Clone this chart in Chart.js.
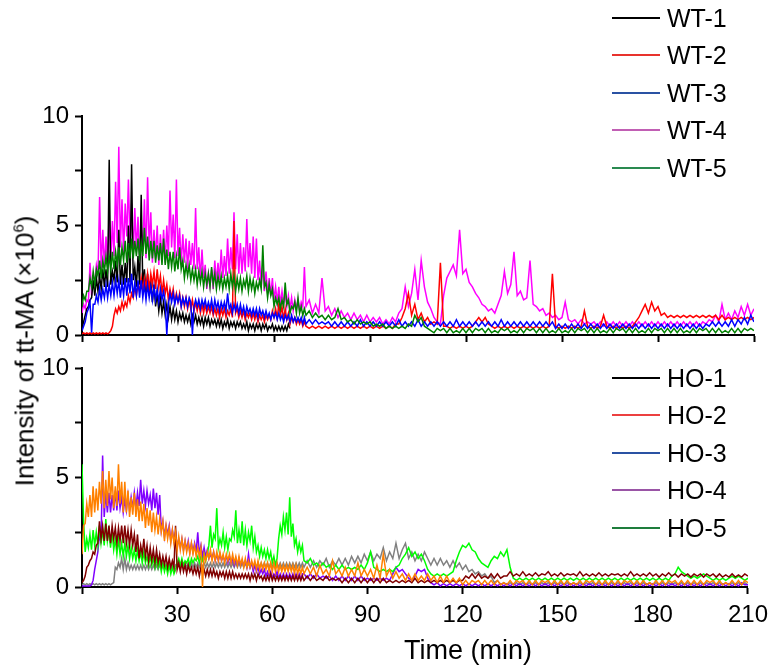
<!DOCTYPE html>
<html>
<head>
<meta charset="utf-8">
<title>Intensity of tt-MA</title>
<script src="https://cdn.jsdelivr.net/npm/chart.js@4.4.1/dist/chart.umd.min.js"></script>
<style>
    body { margin: 0; background: #fff; font-family: "Liberation Sans", Arial, sans-serif; color: #000; }
    #figure { position: relative; width: 775px; height: 670px; overflow: hidden; }
    #figure canvas { position: absolute; left: 0; top: 0; }
    .y-title { position: absolute; left: 25px; top: 351px; transform: translate(-50%, -50%) rotate(-90deg); font-size: 26px; white-space: nowrap; }
    .y-title sup { font-size: 15px; }
    .x-title { position: absolute; left: 404px; top: 634px; font-size: 27px; line-height: 32px; white-space: nowrap; }
    .legend-row { position: absolute; left: 612px; height: 30px; display: flex; align-items: center; font-size: 25px; line-height: 30px; white-space: nowrap; }
    .legend-row .swatch { display: inline-block; width: 48px; height: 2px; margin-right: 7px; }
</style>
</head>
<body>
<div id="figure">
    <canvas id="topChart" width="775" height="670"></canvas>
    <canvas id="bottomChart" width="775" height="670"></canvas>
    <div class="y-title">Intensity of tt-MA (×10<sup>6</sup>)</div>
    <div class="x-title">Time (min)</div>
</div>
<script>
//DATA (intensity in units of 10^6; half-minute readings up to 70 min, then one per minute)
const minutes = [
    0,0.5,1,1.5,2,2.5,3,3.5,4,4.5, 5,5.5,6,6.5,7,7.5,8,8.5,9,9.5,
    10,10.5,11,11.5,12,12.5,13,13.5,14,14.5, 15,15.5,16,16.5,17,17.5,18,18.5,19,19.5,
    20,20.5,21,21.5,22,22.5,23,23.5,24,24.5, 25,25.5,26,26.5,27,27.5,28,28.5,29,29.5,
    30,30.5,31,31.5,32,32.5,33,33.5,34,34.5, 35,35.5,36,36.5,37,37.5,38,38.5,39,39.5,
    40,40.5,41,41.5,42,42.5,43,43.5,44,44.5, 45,45.5,46,46.5,47,47.5,48,48.5,49,49.5,
    50,50.5,51,51.5,52,52.5,53,53.5,54,54.5, 55,55.5,56,56.5,57,57.5,58,58.5,59,59.5,
    60,60.5,61,61.5,62,62.5,63,63.5,64,64.5, 65,65.5,66,66.5,67,67.5,68,68.5,69,69.5,
    70,71,72,73,74,75,76,77,78,79, 80,81,82,83,84,85,86,87,88,89,
    90,91,92,93,94,95,96,97,98,99, 100,101,102,103,104,105,106,107,108,109,
    110,111,112,113,114,115,116,117,118,119, 120,121,122,123,124,125,126,127,128,129,
    130,131,132,133,134,135,136,137,138,139, 140,141,142,143,144,145,146,147,148,149,
    150,151,152,153,154,155,156,157,158,159, 160,161,162,163,164,165,166,167,168,169,
    170,171,172,173,174,175,176,177,178,179, 180,181,182,183,184,185,186,187,188,189,
    190,191,192,193,194,195,196,197,198,199, 200,201,202,203,204,205,206,207,208,209,
    210
];

const xTickValues = [30, 60, 90, 120, 150, 180, 210];
const yTickValues = [0, 5, 10];

const wtNames = ["WT-1", "WT-2", "WT-3", "WT-4", "WT-5"];
const hoNames = ["HO-1", "HO-2", "HO-3", "HO-4", "HO-5"];

// WT-1 stops at 65 min
const wt1 = [
    0.3,0.6,0.9,1.2,1.3,1.6,1.7,2.5,1.8,2.6,
    2.0,2.7,2.1,3.0,2.2,3.0,2.2,8.0,2.3,2.9,
    2.5,3.4,2.4,4.8,2.3,3.2,2.3,3.3,2.4,5.0,
    2.4,7.8,2.5,3.1,2.2,3.6,2.3,6.4,2.2,3.0,
    1.9,2.8,1.8,2.4,1.5,2.3,1.3,1.9,1.1,1.7,
    1.0,1.5,0.9,1.4,0.8,1.3,0.7,1.2,0.7,1.1,
    0.6,1.0,0.7,1.0,0.6,0.9,0.6,0.9,0.5,0.9,
    0.6,0.9,0.5,0.8,0.5,0.8,0.4,0.8,0.5,0.8,
    0.4,0.7,0.5,0.7,0.4,0.7,0.4,0.7,0.3,0.6,
    0.4,0.7,0.3,0.6,0.4,0.6,0.3,0.6,0.4,0.6,
    0.3,0.5,0.3,0.6,0.2,0.5,0.3,0.5,0.2,0.5,
    0.3,0.5,0.2,0.5,0.3,0.5,0.2,0.4,0.3,0.5,
    0.2,0.4,0.2,0.4,0.2,0.4,0.2,0.4,0.2,0.5,
    0.3
];

const wt2 = [
    0.05,0.1,0.05,0.1,0.05,0.1,0.05,0.1,0.05,0.1,
    0.05,0.1,0.05,0.1,0.05,0.1,0.05,0.1,0.2,0.4,
    0.9,1.2,1.0,1.3,1.1,1.5,1.2,1.5,1.3,1.8,
    1.5,1.9,1.7,2.2,1.8,2.3,2.0,2.6,2.0,2.6,
    2.2,2.8,2.1,2.8,2.3,2.9,2.1,3.0,2.2,2.7,
    1.9,2.5,1.9,2.3,1.6,2.1,1.7,2.1,1.5,1.9,
    1.5,1.9,1.3,1.7,1.3,1.7,1.2,1.6,1.2,1.6,
    1.1,1.5,1.1,1.5,1.0,1.4,1.0,1.4,1.0,1.3,
    1.0,1.3,0.9,1.2,0.9,1.2,0.8,1.2,0.9,1.2,
    0.8,1.1,0.9,1.2,0.8,5.2,1.0,1.2,0.8,1.1,
    0.8,1.1,0.7,1.0,0.8,1.0,0.7,1.0,0.7,1.0,
    0.6,0.9,0.7,0.9,0.6,0.9,0.7,0.9,0.7,1.1,
    0.8,1.2,0.8,1.4,0.9,1.3,0.7,1.2,0.7,1.0,
    0.5,0.8,0.6,0.8,0.5,0.7,0.5,0.7,0.4,0.6,
    0.4,0.3,0.4,0.3,0.4,0.3,0.4,0.3,0.4,0.3,
    0.4,0.3,0.4,0.3,0.4,0.3,0.4,0.3,0.4,0.3,
    0.4,0.3,0.4,0.3,0.4,0.3,0.4,0.3,0.5,0.5,
    0.8,1.2,1.9,0.9,1.4,0.7,1.0,0.6,0.8,0.5,
    0.6,0.5,3.3,0.4,0.4,0.3,0.4,0.3,0.4,0.3,
    0.4,0.3,0.4,0.6,0.8,0.6,0.8,0.5,0.4,0.3,
    0.4,0.3,0.4,0.3,0.4,0.3,0.4,0.3,0.4,0.3,
    0.4,0.3,0.4,0.3,0.4,0.3,0.4,2.8,0.4,0.3,
    0.4,0.3,0.4,0.3,0.4,0.3,0.4,1.1,0.4,0.3,
    0.4,0.3,0.4,0.9,0.4,0.3,0.4,0.3,0.4,0.3,
    0.4,0.3,0.4,0.6,0.8,1.1,1.4,1.0,1.5,1.1,
    1.3,0.9,1.0,0.8,0.9,0.8,0.9,0.8,0.9,0.8,
    0.9,0.8,0.9,0.8,0.9,0.8,0.9,0.8,0.9,0.7,
    0.9,0.7,0.8,0.7,0.8,0.7,0.8,0.7,0.8,0.7,
    0.8
];

const wt3 = [
    0.2,0.4,0.6,1.0,1.2,1.5,0.1,1.4,1.4,1.8,
    1.5,2.1,1.6,2.1,1.7,2.3,1.7,2.3,1.8,2.4,
    1.8,2.5,1.9,2.5,1.7,2.4,1.8,2.6,1.8,2.6,
    1.9,2.8,1.7,2.4,1.8,2.5,1.7,2.5,1.7,2.3,
    1.6,2.3,1.7,2.2,1.6,2.2,1.6,2.1,1.5,2.1,
    1.6,2.0,1.5,0.0,1.4,1.9,1.5,1.9,1.4,1.8,
    1.5,1.8,1.3,1.7,1.4,1.7,1.3,1.7,1.5,0.0,
    1.3,1.6,1.3,1.6,1.2,1.6,1.3,1.6,1.2,1.5,
    1.2,1.6,1.1,1.6,1.2,1.5,1.1,1.5,1.2,1.5,
    1.1,1.9,1.2,1.4,1.0,1.4,1.1,1.4,1.0,1.4,
    1.0,1.3,0.9,1.3,1.0,1.2,0.9,1.2,0.9,1.2,
    0.8,1.2,0.9,1.1,0.8,1.1,0.8,1.0,0.7,1.0,
    0.8,1.0,0.7,1.0,0.7,0.9,0.6,0.9,0.7,0.9,
    0.6,0.9,0.6,0.8,0.6,0.8,0.6,0.8,0.5,0.8,
    0.5,0.7,0.5,0.7,0.5,0.6,0.5,0.6,0.4,0.6,
    0.4,0.6,0.4,0.6,0.4,0.6,0.4,0.7,0.4,0.6,
    0.4,0.6,0.4,0.6,0.4,0.6,0.4,0.6,0.4,0.7,
    0.4,0.6,0.4,0.6,0.4,0.7,0.4,0.6,0.4,0.6,
    0.4,0.6,0.4,0.6,0.4,0.6,0.4,0.7,0.4,0.6,
    0.4,0.6,0.4,0.6,0.4,0.6,0.4,0.6,0.4,0.6,
    0.4,0.7,0.4,0.6,0.4,0.6,0.4,0.6,0.4,0.6,
    0.4,0.6,0.4,0.6,0.4,0.6,0.4,0.6,0.3,0.5,
    0.3,0.5,0.3,0.5,0.3,0.5,0.3,0.5,0.3,0.5,
    0.3,0.5,0.3,0.5,0.3,0.5,0.3,0.5,0.3,0.5,
    0.3,0.5,0.3,0.5,0.3,0.5,0.3,0.5,0.3,0.5,
    0.3,0.5,0.3,0.5,0.3,0.5,0.3,0.5,0.3,0.5,
    0.3,0.5,0.3,0.5,0.3,0.5,0.4,0.6,0.4,0.6,
    0.4,0.6,0.4,0.7,0.4,0.7,0.5,0.8,0.5,0.9,
    0.6
];

const wt4 = [
    1.0,1.4,1.2,1.6,1.5,3.3,1.8,2.6,2.4,3.2,
    2.8,6.3,3.0,4.8,3.1,4.5,3.3,5.6,3.4,5.2,
    3.6,7.0,4.2,8.6,4.0,6.2,3.7,6.0,4.5,7.1,
    4.2,6.0,3.6,5.8,3.8,5.4,3.4,5.0,3.8,6.2,
    3.5,7.2,3.9,5.6,3.3,4.8,3.5,5.0,3.2,4.6,
    3.4,4.8,3.3,5.0,3.6,6.6,4.0,5.5,3.5,7.1,
    3.6,4.9,3.2,4.6,3.3,4.4,3.0,4.3,3.2,4.2,
    3.0,5.8,3.0,4.0,2.5,3.9,2.6,3.2,2.1,2.8,
    2.2,3.0,2.1,3.4,2.4,3.3,2.5,3.9,2.6,3.6,
    2.7,4.4,2.8,4.0,3.0,5.6,3.0,4.6,2.8,4.2,
    2.8,4.0,2.9,5.3,3.1,4.2,2.8,4.5,2.6,4.4,
    2.5,3.4,2.2,3.2,2.0,2.9,1.9,2.6,1.8,2.6,
    1.6,2.2,1.5,2.2,1.4,2.0,1.4,1.9,1.3,1.8,
    1.2,1.7,1.1,1.6,1.2,1.6,1.1,1.5,1.3,3.1,
    1.3,1.6,1.0,1.4,1.0,2.6,1.1,1.3,0.9,1.2,
    0.8,1.1,0.8,1.0,0.7,1.0,0.7,0.9,0.6,0.9,
    0.6,0.8,0.6,0.8,0.5,0.7,0.5,0.8,0.6,1.0,
    1.2,2.2,1.3,1.9,3.0,1.6,3.4,2.2,1.5,1.2,
    0.8,0.6,0.5,1.8,2.6,2.9,3.2,2.7,4.8,2.8,
    3.0,2.4,2.2,1.9,1.7,1.4,1.3,1.1,1.2,1.0,
    1.4,1.8,2.9,1.9,2.3,3.8,1.8,2.0,1.6,1.7,
    3.4,1.4,1.3,1.1,1.2,0.9,1.0,0.8,0.9,0.7,
    0.8,1.5,0.7,0.6,0.7,0.5,0.7,0.5,0.6,0.5,
    0.6,0.4,0.6,0.4,0.6,0.4,0.6,0.4,0.6,0.4,
    0.6,0.4,0.6,0.4,0.6,0.4,0.6,0.4,0.6,0.4,
    0.6,0.4,0.6,0.4,0.6,0.4,0.6,0.4,0.6,0.4,
    0.6,0.4,0.6,0.4,0.6,0.5,0.7,0.6,0.9,0.6,
    1.4,0.7,1.0,0.7,1.1,0.8,1.3,0.9,1.4,0.9,
    1.2
];

const wt5 = [
    1.3,1.8,1.6,2.0,2.0,2.6,2.2,2.9,2.3,3.0,
    2.7,3.4,2.6,3.4,2.9,3.6,2.9,3.6,3.0,3.8,
    3.0,3.8,3.2,4.0,3.2,4.0,3.4,4.3,3.3,4.2,
    3.5,4.4,3.5,4.3,3.6,4.4,3.4,4.2,3.6,4.9,
    3.7,4.5,3.4,4.3,3.5,4.3,3.3,4.1,3.4,4.2,
    3.2,4.4,3.2,3.9,3.0,3.8,3.1,3.8,2.9,3.6,
    3.0,4.0,3.0,3.4,2.6,3.2,2.7,3.2,2.5,3.0,
    2.5,3.0,2.3,2.9,2.4,2.9,2.2,2.8,2.3,2.8,
    2.2,3.1,2.3,2.8,2.1,2.7,2.2,2.7,2.1,2.6,
    2.2,2.7,2.1,2.8,2.2,2.7,2.0,2.6,2.1,2.6,
    2.0,2.5,2.2,2.7,2.0,2.6,2.1,2.5,1.9,2.4,
    2.1,2.5,2.1,4.1,2.2,2.4,1.7,2.3,1.8,2.1,
    1.3,1.7,1.4,1.7,1.2,1.6,1.3,2.4,1.4,1.6,
    1.0,1.3,1.2,1.5,1.0,1.7,1.0,1.3,0.9,1.2,
    0.9,1.1,0.8,1.0,0.8,0.9,0.7,0.9,0.7,0.8,
    1.2,0.7,0.8,0.6,0.7,0.5,0.7,0.5,0.6,0.5,
    0.6,0.4,0.5,0.4,0.5,0.3,0.4,0.3,0.4,0.3,
    0.4,0.3,0.5,0.4,0.9,0.6,0.8,0.4,0.3,0.2,
    0.1,0.3,0.2,0.3,0.1,0.3,0.1,0.2,0.1,0.3,
    0.1,0.3,0.1,0.3,0.2,0.3,0.1,0.3,0.1,0.2,
    0.1,0.3,0.2,0.3,0.1,0.2,0.1,0.3,0.1,0.3,
    0.2,0.3,0.1,0.3,0.1,0.3,0.1,0.2,0.1,0.3,
    0.1,0.2,0.1,0.3,0.1,0.3,0.2,0.3,0.1,0.3,
    0.1,0.3,0.1,0.2,0.1,0.3,0.1,0.3,0.2,0.3,
    0.1,0.3,0.1,0.3,0.1,0.2,0.1,0.3,0.1,0.3,
    0.2,0.3,0.1,0.3,0.1,0.3,0.1,0.3,0.1,0.2,
    0.1,0.3,0.1,0.3,0.2,0.3,0.1,0.3,0.1,0.3,
    0.1,0.2,0.1,0.3,0.1,0.3,0.1,0.3,0.2,0.3,
    0.2
];

const ho1 = [
    0.2,0.3,0.5,0.9,1.0,1.2,1.3,1.6,1.5,1.9,
    2.0,3.0,2.2,2.8,2.1,2.9,2.1,2.8,2.0,2.8,
    2.2,2.7,2.0,2.7,2.1,2.8,2.0,2.8,2.0,2.6,
    1.9,2.6,1.9,2.4,1.6,2.4,1.3,1.9,1.5,2.2,
    1.4,1.9,1.2,1.8,1.2,1.7,1.1,1.7,1.1,1.5,
    1.0,1.4,1.0,1.4,0.9,1.3,0.9,1.2,0.9,2.8,
    0.8,1.1,0.7,1.1,0.7,1.0,0.6,1.0,0.7,0.9,
    0.6,0.9,0.6,0.9,0.5,0.9,0.6,0.8,0.5,0.8,
    0.5,0.8,0.5,0.8,0.5,0.7,0.4,0.7,0.5,0.7,
    0.4,0.7,0.4,0.7,0.4,0.7,0.4,0.6,0.4,0.6,
    0.4,0.6,0.4,0.6,0.4,0.6,0.3,0.6,0.4,0.6,
    0.3,0.6,0.4,0.5,0.3,0.5,0.3,0.5,0.3,0.6,
    0.3,0.5,0.3,0.5,0.3,0.5,0.3,0.5,0.3,0.5,
    0.3,0.5,0.3,0.5,0.3,0.5,0.3,0.5,0.3,0.5,
    0.3,0.5,0.3,0.5,0.3,0.4,0.3,0.5,0.3,0.4,
    0.3,0.4,0.2,0.4,0.2,0.4,0.2,0.4,0.2,0.4,
    0.2,0.4,0.2,0.4,0.2,0.4,0.2,0.3,0.2,0.3,
    0.2,0.3,0.2,0.3,0.2,0.4,0.2,0.3,0.2,0.3,
    0.2,0.3,0.2,0.3,0.2,0.3,0.2,0.3,0.2,0.3,
    0.3,0.5,0.4,0.6,0.4,0.6,0.4,0.5,0.4,0.6,
    0.4,0.6,0.4,0.5,0.5,0.7,0.5,0.6,0.5,0.7,
    0.5,0.6,0.5,0.65,0.5,0.6,0.55,0.7,0.5,0.6,
    0.5,0.65,0.5,0.6,0.55,0.6,0.5,0.7,0.5,0.6,
    0.5,0.6,0.5,0.65,0.5,0.6,0.5,0.6,0.55,0.6,
    0.5,0.6,0.5,0.7,0.5,0.6,0.5,0.6,0.5,0.65,
    0.5,0.6,0.45,0.6,0.5,0.65,0.5,0.6,0.45,0.6,
    0.5,0.6,0.45,0.6,0.5,0.6,0.45,0.6,0.5,0.6,
    0.45,0.6,0.45,0.55,0.45,0.6,0.45,0.55,0.45,0.6,
    0.5
];

const ho2 = [
    1.5,2.8,2.9,3.8,3.2,4.2,3.2,4.6,3.4,4.5,
    3.5,4.8,3.8,5.3,3.6,4.9,3.7,5.3,4.0,5.0,
    3.6,4.6,3.7,5.6,3.8,4.8,3.4,4.8,3.4,4.4,
    3.2,4.1,3.3,4.3,3.2,4.0,3.0,3.9,3.0,3.8,
    2.7,3.6,2.8,3.5,2.5,3.4,2.6,3.2,2.4,3.1,
    2.5,3.0,2.1,2.8,2.2,2.7,2.0,2.6,2.0,2.5,
    1.7,2.3,1.7,2.2,1.6,2.1,1.6,2.0,1.5,2.0,
    1.5,1.9,1.4,1.8,1.4,1.8,0.0,1.5,1.2,1.6,
    1.3,1.7,1.2,1.6,1.2,1.6,1.2,1.6,1.2,1.5,
    1.1,1.5,1.2,1.5,1.1,1.5,1.1,1.4,1.0,1.4,
    1.0,1.3,0.9,1.3,0.9,1.2,0.9,1.2,0.9,1.2,
    0.8,1.2,0.8,1.1,0.8,1.1,0.8,1.1,0.7,1.1,
    0.7,1.1,0.7,1.1,0.7,1.0,0.7,1.0,0.7,1.0,
    0.7,1.0,0.7,1.0,0.6,1.0,0.6,0.9,0.6,0.9,
    0.6,0.9,0.6,0.9,0.5,1.0,0.6,0.8,0.5,1.2,
    0.6,0.8,0.5,0.9,0.5,0.8,0.5,1.1,0.5,0.8,
    0.5,0.8,0.4,1.0,0.4,1.5,0.5,0.8,0.4,0.7,
    0.4,0.6,0.3,0.6,0.3,0.6,0.3,0.5,0.3,0.6,
    0.3,0.5,0.2,0.5,0.2,0.5,0.2,0.4,0.2,0.4,
    0.1,0.3,0.1,0.3,0.2,0.3,0.1,0.3,0.1,0.3,
    0.1,0.3,0.1,0.2,0.1,0.3,0.1,0.3,0.2,0.3,
    0.1,0.3,0.1,0.3,0.1,0.3,0.2,0.3,0.1,0.3,
    0.1,0.3,0.1,0.3,0.1,0.2,0.1,0.3,0.1,0.3,
    0.2,0.3,0.1,0.3,0.1,0.3,0.1,0.3,0.1,0.3,
    0.1,0.3,0.2,0.3,0.1,0.3,0.1,0.3,0.1,0.2,
    0.1,0.3,0.1,0.3,0.1,0.3,0.2,0.3,0.1,0.3,
    0.1,0.3,0.1,0.3,0.1,0.3,0.1,0.3,0.2,0.3,
    0.1,0.3,0.1,0.2,0.1,0.3,0.1,0.3,0.1,0.3,
    0.2
];

const ho3 = [
    0.1,0.15,0.1,0.15,0.1,0.15,0.1,0.15,0.1,0.15,
    0.1,0.15,0.1,0.15,0.1,0.15,0.1,0.15,0.1,0.15,
    0.2,0.9,0.8,1.1,0.9,1.3,0.8,1.3,0.8,1.1,
    0.8,1.0,0.8,1.0,0.8,1.0,0.8,1.0,0.8,1.0,
    0.8,1.0,0.8,1.0,0.8,1.0,0.8,1.0,0.8,1.0,
    0.8,1.0,0.8,1.0,0.8,1.0,0.8,1.0,0.8,1.0,
    0.9,1.1,0.9,1.1,0.9,1.1,0.9,1.1,0.9,1.1,
    0.9,1.1,0.9,1.1,0.9,1.1,0.9,1.1,0.9,1.1,
    0.9,1.1,0.9,1.1,0.9,1.1,0.9,1.1,0.9,1.1,
    0.9,1.1,0.9,1.1,0.9,1.1,0.9,1.1,0.9,1.1,
    0.9,1.1,0.9,1.1,0.9,1.1,0.9,1.1,0.9,1.1,
    0.9,1.1,0.9,1.1,0.9,1.1,0.9,1.1,0.9,1.1,
    0.9,1.1,0.9,1.1,0.9,1.1,0.9,1.1,0.9,1.1,
    0.9,1.1,0.9,1.1,0.9,1.1,0.9,1.1,0.9,1.1,
    0.9,1.2,0.9,1.2,0.9,1.2,1.0,1.3,0.9,1.2,
    1.0,1.3,1.0,1.3,1.0,1.4,1.1,1.4,1.1,1.5,
    1.2,1.6,1.2,1.5,1.3,1.8,1.2,1.6,1.3,2.0,
    1.3,1.7,2.0,1.3,1.6,1.2,1.5,1.2,1.6,1.3,
    1.0,1.3,1.0,1.3,1.0,1.2,0.9,1.2,0.9,1.1,
    0.8,1.0,0.7,0.8,0.6,0.7,0.5,0.6,0.4,0.5,
    0.2,0.3,0.1,0.2,0.1,0.2,0.1,0.2,0.1,0.2,
    0.1,0.2,0.1,0.2,0.1,0.2,0.1,0.2,0.1,0.2,
    0.1,0.2,0.1,0.2,0.1,0.2,0.1,0.2,0.1,0.2,
    0.1,0.2,0.1,0.2,0.1,0.2,0.1,0.2,0.1,0.2,
    0.1,0.2,0.1,0.2,0.1,0.2,0.1,0.2,0.1,0.2,
    0.1,0.2,0.1,0.2,0.1,0.2,0.1,0.2,0.1,0.2,
    0.1,0.2,0.1,0.2,0.1,0.2,0.1,0.2,0.1,0.2,
    0.1,0.2,0.1,0.2,0.1,0.2,0.1,0.2,0.1,0.2,
    0.1
];

const ho4 = [
    0.05,0.05,0.05,0.05,0.05,0.05,0.1,0.3,0.8,1.2,
    1.6,2.4,2.0,6.0,3.2,4.3,3.4,4.3,3.4,4.2,
    3.5,4.4,3.5,4.4,3.6,4.1,3.4,4.0,3.5,4.2,
    3.5,4.1,3.6,4.3,3.6,4.3,3.7,4.9,3.8,4.4,
    3.7,4.4,3.8,4.2,3.5,4.5,3.6,4.3,3.3,4.2,
    2.6,3.0,2.3,2.8,2.4,2.8,2.1,2.6,2.1,2.5,
    1.8,2.2,1.8,2.2,1.7,2.1,1.7,2.1,1.6,2.0,
    1.6,2.0,1.6,2.5,1.5,1.9,1.4,1.8,1.4,1.7,
    1.3,1.5,1.3,1.6,1.2,1.5,1.2,1.5,1.2,1.4,
    1.2,1.4,1.1,1.4,1.1,1.3,1.0,1.3,1.0,1.3,
    1.0,1.2,1.0,1.2,0.9,1.5,0.9,1.1,0.7,1.0,
    0.7,0.9,0.6,0.8,0.6,0.8,0.5,0.7,0.5,0.7,
    0.4,0.6,0.5,0.7,0.4,0.6,0.4,0.6,0.4,0.6,
    0.4,0.6,0.4,0.6,0.4,0.6,0.4,0.6,0.4,0.6,
    0.6,0.4,0.6,0.4,0.6,0.4,0.5,0.4,0.5,0.3,
    0.5,0.3,0.5,0.3,0.5,0.3,0.5,0.3,0.5,0.3,
    0.4,0.3,0.4,0.3,0.4,0.3,0.4,0.3,0.6,0.9,
    0.7,0.8,0.6,0.4,0.3,0.5,0.8,0.7,0.8,0.4,
    0.2,0.1,0.2,0.05,0.15,0.05,0.15,0.05,0.15,0.05,
    0.15,0.05,0.15,0.05,0.15,0.05,0.15,0.05,0.15,0.05,
    0.15,0.05,0.15,0.05,0.15,0.05,0.15,0.05,0.15,0.05,
    0.15,0.05,0.15,0.05,0.15,0.05,0.15,0.05,0.15,0.05,
    0.15,0.05,0.15,0.05,0.15,0.05,0.15,0.05,0.15,0.05,
    0.15,0.05,0.15,0.05,0.15,0.05,0.15,0.05,0.15,0.05,
    0.15,0.05,0.15,0.05,0.15,0.05,0.15,0.05,0.15,0.05,
    0.15,0.05,0.15,0.05,0.15,0.05,0.15,0.05,0.15,0.05,
    0.15,0.05,0.15,0.05,0.15,0.05,0.15,0.05,0.15,0.05,
    0.15,0.05,0.15,0.05,0.15,0.05,0.15,0.05,0.2,0.1,
    0.1
];

const ho5 = [
    5.6,3.0,1.6,2.2,1.8,2.4,1.7,2.6,1.9,2.5,
    1.9,2.8,2.0,2.6,1.9,3.1,2.1,2.6,1.8,2.5,
    1.7,2.2,1.5,2.2,1.5,2.0,1.4,2.0,1.4,1.9,
    1.3,1.8,1.3,1.7,1.2,1.7,1.2,1.6,1.1,1.6,
    1.1,1.4,1.0,1.4,1.0,1.3,0.9,1.3,0.9,1.2,
    0.7,1.1,0.7,1.0,0.6,1.0,0.6,0.9,0.6,0.8,
    1.1,1.3,1.0,1.3,1.0,1.2,1.1,1.3,1.0,1.3,
    1.1,1.3,1.2,1.4,1.1,1.4,1.2,1.5,1.2,1.5,
    1.9,2.8,1.8,2.4,2.2,3.6,1.8,2.2,1.9,2.5,
    1.8,2.3,1.7,2.2,2.1,2.6,2.3,3.5,2.0,2.6,
    2.0,3.0,1.9,2.6,1.9,2.5,2.1,2.8,1.8,2.3,
    1.6,1.9,1.4,1.8,1.4,1.7,1.3,1.7,1.3,1.6,
    1.1,1.4,1.0,1.3,2.2,2.8,2.4,3.2,2.6,3.4,
    2.4,4.1,2.3,2.9,1.9,2.2,1.6,2.0,1.6,1.9,
    1.2,1.1,1.3,1.0,1.1,0.9,1.1,0.9,1.0,0.8,
    1.0,0.8,1.0,0.8,0.9,0.8,0.9,0.8,1.0,0.8,
    1.1,1.6,0.9,0.8,0.7,0.8,0.7,0.8,0.7,0.9,
    1.0,1.3,1.5,1.8,1.4,1.6,1.3,1.5,1.2,0.8,
    0.6,0.5,0.6,0.5,0.6,0.5,0.6,0.7,1.2,1.6,
    1.9,1.8,2.0,1.7,1.6,1.3,1.1,1.0,0.9,1.2,
    1.4,1.3,1.6,1.4,1.7,0.9,0.4,0.3,0.4,0.3,
    0.4,0.3,0.4,0.3,0.4,0.3,0.4,0.3,0.4,0.3,
    0.4,0.3,0.4,0.3,0.4,0.3,0.4,0.3,0.4,0.3,
    0.4,0.3,0.4,0.3,0.4,0.3,0.4,0.3,0.4,0.3,
    0.4,0.3,0.4,0.3,0.4,0.3,0.4,0.3,0.4,0.3,
    0.4,0.3,0.4,0.3,0.4,0.3,0.5,0.6,0.9,0.7,
    0.6,0.5,0.4,0.5,0.4,0.5,0.6,0.5,0.4,0.3,
    0.4,0.3,0.4,0.3,0.4,0.5,0.4,0.5,0.4,0.3,
    0.4
];

//STYLES
const wtLineColors = ["#000000", "#ff0000", "#0000ff", "#ff00ff", "#008000"];
const hoLineColors = ["#800000", "#ff8000", "#808080", "#8000ff", "#00ff00"];
const wtLegendColors = ["#000000", "#e8322d", "#2a52a3", "#c15fb4", "#2a8a50"];
const hoLegendColors = ["#000000", "#ec4040", "#2a52a3", "#9a55a6", "#1e7d3c"];
// lower number is drawn on top
const wtDrawOrder = [4, 3, 2, 5, 1];
const hoDrawOrder = [2, 1, 5, 4, 3];

const fontFamily = "'Liberation Sans', Arial, sans-serif";

function axisLines() {
    return {
        grid: { drawOnChartArea: false, drawTicks: true, tickLength: 7, tickWidth: 2, tickColor: "#000" },
        border: { color: "#000", width: 2 }
    };
}

function makePanel(canvasId, names, series, colors, drawOrder, padTop, padBottom, xHeight, showXLabels) {
    const ctx = document.getElementById(canvasId).getContext("2d");
    return new Chart(ctx, {
        type: "line",
        data: {
            labels: minutes,
            datasets: series.map((values, i) => ({
                label: names[i],
                data: values,
                borderColor: colors[i],
                backgroundColor: colors[i],
                borderWidth: 1.5,
                pointRadius: 0,
                tension: 0,
                fill: false,
                order: drawOrder[i]
            }))
        },
        options: {
            responsive: false,
            animation: false,
            devicePixelRatio: 1,
            layout: { padding: { top: padTop, bottom: padBottom, left: 0, right: 21 } },
            plugins: { legend: { display: false }, tooltip: { enabled: false } },
            scales: {
                x: {
                    type: "linear",
                    min: 0,
                    max: 210,
                    ...axisLines(),
                    ticks: {
                        stepSize: 30,
                        autoSkip: false,
                        maxRotation: 0,
                        padding: 7,
                        color: "#000",
                        font: { family: fontFamily, size: 24 },
                        callback: v => (showXLabels && xTickValues.includes(v)) ? String(v) : ""
                    },
                    afterFit: scale => { scale.height = xHeight; }
                },
                y: {
                    min: 0,
                    max: 10,
                    ...axisLines(),
                    ticks: {
                        stepSize: 2.5,
                        autoSkip: false,
                        padding: 6,
                        color: "#000",
                        font: { family: fontFamily, size: 24 },
                        callback: v => yTickValues.includes(v) ? String(v) : ""
                    },
                    afterFit: scale => { scale.width = 82; }
                }
            }
        }
    });
}

function addLegend(names, colors, firstY) {
    const figure = document.getElementById("figure");
    names.forEach((name, i) => {
        const row = document.createElement("div");
        row.className = "legend-row";
        row.style.top = (firstY + i * 37.4 - 15) + "px";
        row.innerHTML = `<span class="swatch" style="background:${colors[i]}"></span><span>${name}</span>`;
        figure.appendChild(row);
    });
}

//TOP PANEL
makePanel("topChart", wtNames, [wt1, wt2, wt3, wt4, wt5], wtLineColors, wtDrawOrder, 116, 325, 10, false);
addLegend(wtNames, wtLegendColors, 18);

//BOTTOM PANEL
makePanel("bottomChart", hoNames, [ho1, ho2, ho3, ho4, ho5], hoLineColors, hoDrawOrder, 368, 0, 83, true);
addLegend(hoNames, hoLegendColors, 378);
</script>
</body>
</html>
